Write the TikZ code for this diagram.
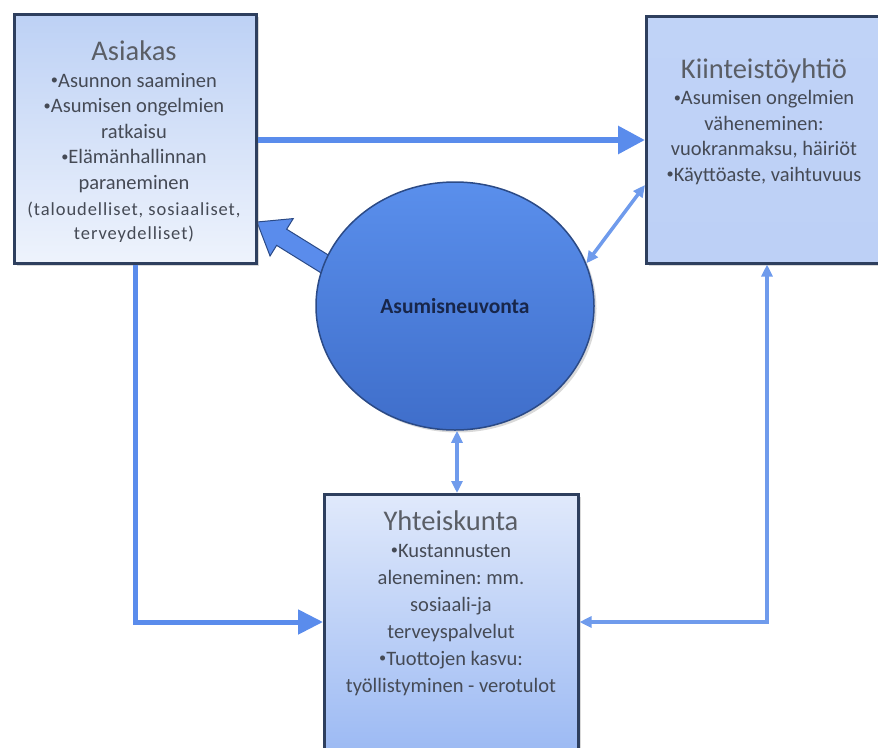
\documentclass[tikz,border=0pt]{standalone}
\usepackage{fontspec}
\setmainfont{Carlito}
\newfontfamily\spacedfont[LetterSpace=5]{Carlito}
\frenchspacing
\usetikzlibrary{arrows.meta,calc,shadows,shapes.geometric}
\definecolor{arrowblue}{HTML}{5A8CEC}
\definecolor{thinblue}{HTML}{6F9BEC}
\definecolor{boxborder}{HTML}{2E3F5E}
\definecolor{bodygray}{HTML}{454A55}
\definecolor{titlegray}{HTML}{5A5E66}
\definecolor{ellTop}{HTML}{5A8FEC}
\definecolor{ellBot}{HTML}{3F6ECA}
\definecolor{ellBorder}{HTML}{2B4A86}
\definecolor{ellText}{HTML}{18264A}
\definecolor{asTop}{HTML}{BDD1F5}
\definecolor{asBot}{HTML}{EEF3FC}
\definecolor{kiTop}{HTML}{C0D3F7}
\definecolor{kiMid}{HTML}{D4E1FA}
\definecolor{kiBot}{HTML}{BDD0F6}
\definecolor{yhTop}{HTML}{E0E9FB}
\definecolor{yhBot}{HTML}{9BB9F3}
\newcommand{\bul}{\raisebox{0.12em}{\scalebox{0.7}{•}}}
\pgfdeclarelayer{bg}
\pgfsetlayers{bg,main}
\tikzset{
  box/.style={draw=boxborder, line width=2.5pt, inner sep=0pt, anchor=north west,
    drop shadow={opacity=0.3, shadow xshift=2.5pt, shadow yshift=-2.5pt}},
  titletxt/.style={text=titlegray, inner sep=0pt, anchor=base, font=\fontsize{28.5}{32}\selectfont},
  bodytxt/.style={text=bodygray, inner sep=0pt, anchor=base, align=center, font=\fontsize{20.5}{25.5}\selectfont},
  smalltxt/.style={text=bodygray, inner sep=0pt, anchor=base, align=center, font=\spacedfont\fontsize{18.5}{24}\selectfont},
  thickarrow/.style={draw=arrowblue, line width=6pt, -{Triangle[length=27pt,width=27pt]}},
  leftarrow/.style={draw=arrowblue, line width=5pt, -{Triangle[length=25pt,width=24pt]}},
  thinboth/.style={draw=thinblue, line width=3.5pt, {Triangle[length=12pt,width=11pt]}-{Triangle[length=12pt,width=11pt]}},
  blockarrow/.style={fill=arrowblue, draw=ellBorder, line width=1pt, line join=miter}
}
\begin{document}
\begin{tikzpicture}[x=1pt,y=-1pt]
\useasboundingbox (0,0) rectangle (878,747);

% boxes
\node[box, top color=asTop, bottom color=asBot, minimum width=242pt, minimum height=249pt] (asiakas) at (13,13) {};
\node[box, top color=kiTop, middle color=kiMid, bottom color=kiBot, minimum width=238pt, minimum height=247pt] (kiint) at (645,15) {};
\node[box, top color=yhTop, bottom color=yhBot, minimum width=254pt, minimum height=262pt] (yht) at (323,493) {};

% ellipse
\node[ellipse, draw=ellBorder, line width=1.5pt, top color=ellTop, bottom color=ellBot,
      minimum width=278pt, minimum height=248pt, inner sep=0pt,
      drop shadow={opacity=0.3, shadow xshift=2.5pt, shadow yshift=-2.5pt},
      font=\bfseries\fontsize{21.5}{24}\selectfont, text=ellText] (neuvonta) at (455,306) {Asumisneuvonta};

% texts (base anchor = baseline of last line)
\node[titletxt] (asiakasT) at (134,60) {Asiakas};
\node[bodytxt] (asiakasB) at (134,189) {\bul Asunnon saaminen\\\bul Asumisen ongelmien\\ratkaisu\\\bul Elämänhallinnan\\paraneminen};
\node[smalltxt] (asiakasS) at (134,239) {(taloudelliset, sosiaaliset,\\terveydelliset)};

\node[titletxt] (kiintT) at (764,78) {Kiinteistöyhtiö};
\node[bodytxt] (kiintB) at (764,181) {\bul Asumisen ongelmien\\väheneminen:\\vuokranmaksu, häiriöt\\\bul Käyttöaste, vaihtuvuus};

\node[titletxt] (yhtT) at (451,530) {Yhteiskunta};
\node[bodytxt, font=\fontsize{20.5}{27}\selectfont] (yhtB) at (451,692) {\bul Kustannusten\\aleneminen: mm.\\sosiaali-ja\\terveyspalvelut\\\bul Tuottojen kasvu:\\työllistyminen - verotulot};

% helper coordinates
\coordinate (hy) at (0,140);
\coordinate (lx) at (135,0);
\coordinate (ly) at (0,622);
\coordinate (rx) at (767,0);
\coordinate (vx) at (457,0);
\coordinate (dy) at (0,185);

% block arrow from ellipse to Asiakas
\coordinate (tip) at (257,222);
\coordinate (tail) at ($(neuvonta.162)!-10pt!(tip)$);
\coordinate (hb) at ($(tip)!29pt!(tail)$);
\begin{pgfonlayer}{bg}
\path[blockarrow] ($(tail)!9.5pt!90:(tip)$) -- ($(hb)!9.5pt!-90:(tail)$) -- ($(hb)!22pt!-90:(tail)$) -- (tip)
  -- ($(hb)!22pt!90:(tail)$) -- ($(hb)!9.5pt!90:(tail)$) -- ($(tail)!9.5pt!-90:(tip)$) -- cycle;
\end{pgfonlayer}

% connectors
\draw[thickarrow] (asiakas.east |- hy) -- (kiint.west |- hy);
\draw[leftarrow] (asiakas.south -| lx) |- (yht.west |- ly);
\draw[thinboth] (kiint.south -| rx) |- (yht.east |- ly);
\draw[thinboth] (neuvonta.south -| vx) -- (yht.north -| vx);
\draw[thinboth] (neuvonta.18) -- (kiint.west |- dy);
\end{tikzpicture}
\end{document}
